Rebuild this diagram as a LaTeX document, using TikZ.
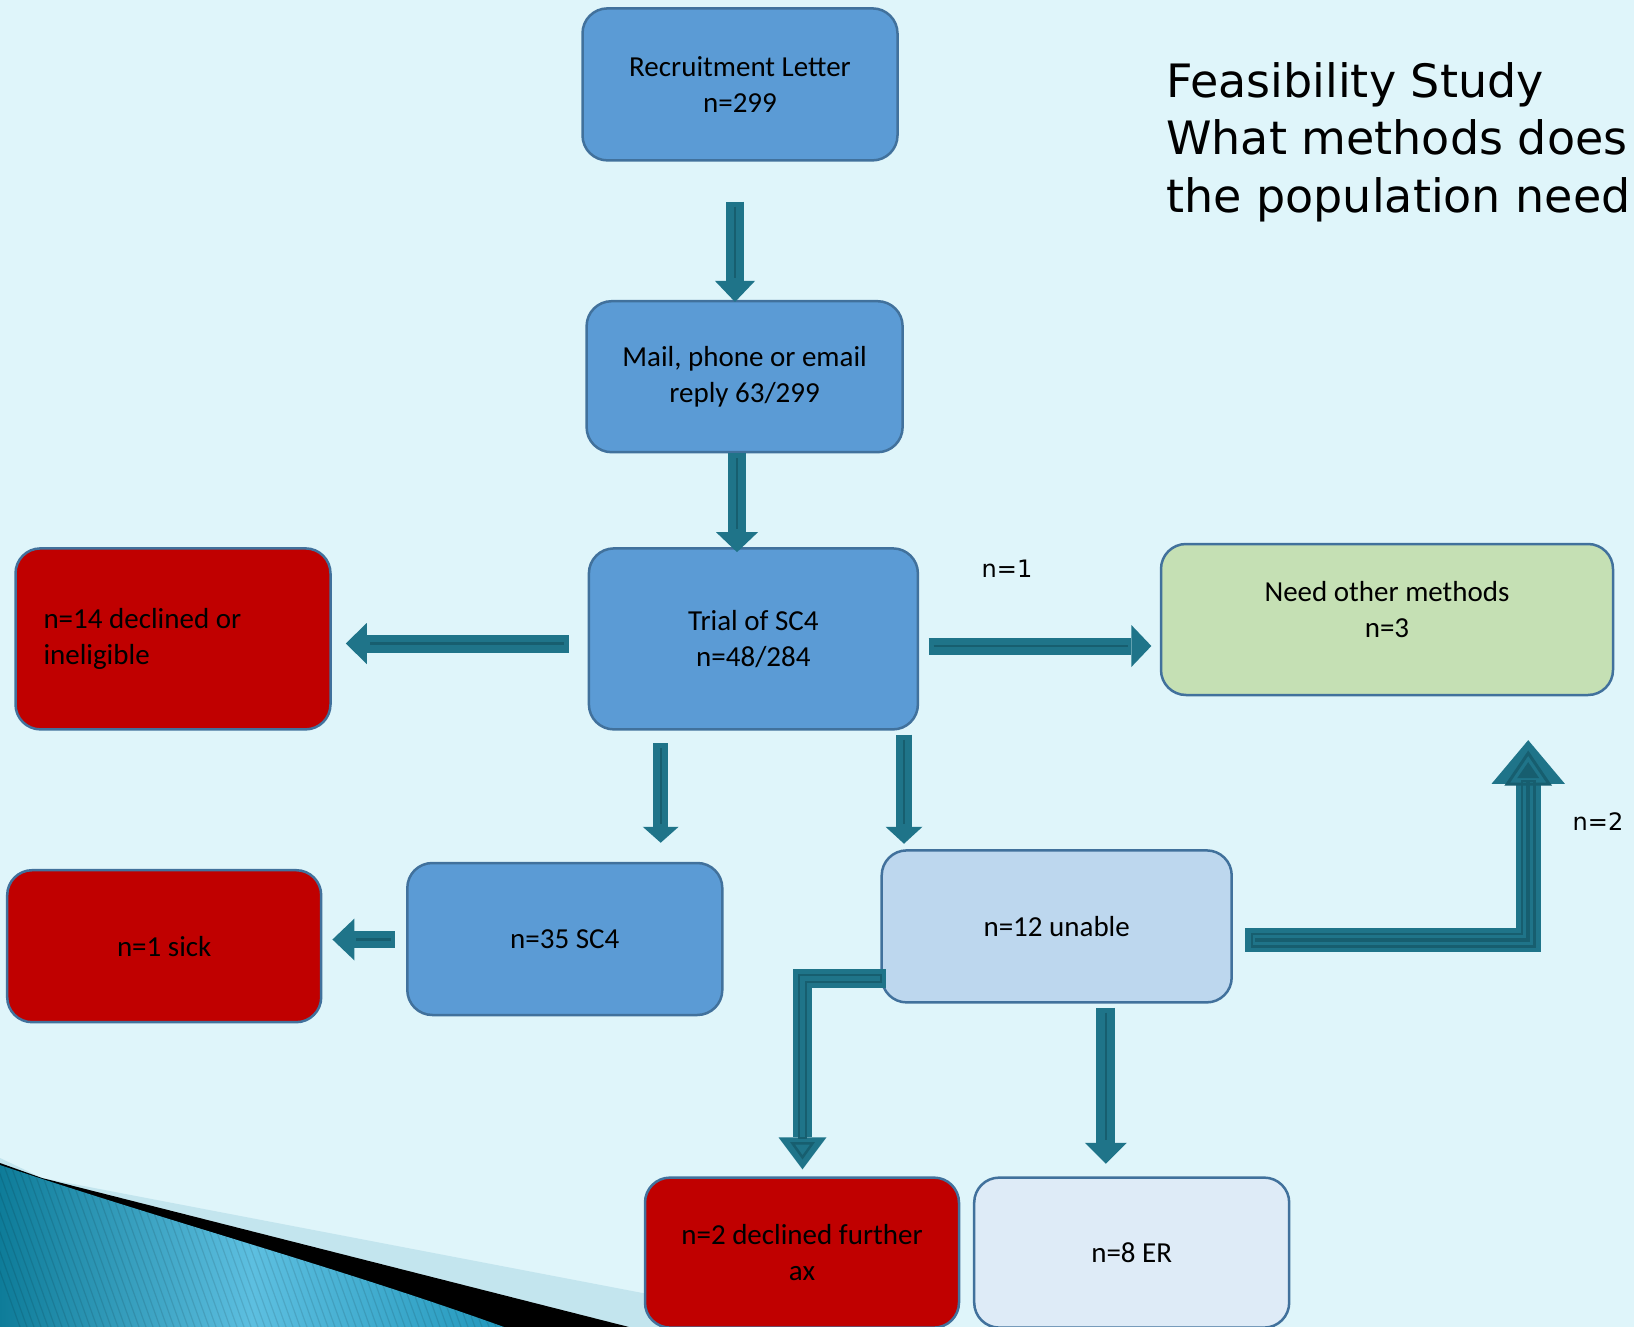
\documentclass[tikz,border=0pt]{standalone}
\usepackage{fontspec}
\setmainfont{Carlito}
\newfontfamily\titlefont{DejaVu Sans}
\usetikzlibrary{arrows.meta,calc}
\definecolor{bgc}{HTML}{DFF5FA}
\definecolor{blueA}{HTML}{5B9BD5}
\definecolor{bordc}{HTML}{41719C}
\definecolor{redA}{HTML}{C00000}
\definecolor{greenA}{HTML}{C5E0B4}
\definecolor{lightA}{HTML}{BDD7EE}
\definecolor{paleA}{HTML}{DEEBF7}
\definecolor{arrowcol}{HTML}{1F7489}
\definecolor{arrowdark}{HTML}{175E6F}
\definecolor{bandc}{HTML}{C3E5EE}
\definecolor{swA}{HTML}{0E7C99}
\definecolor{swB}{HTML}{5DBFE0}
\definecolor{swC}{HTML}{2398BC}
\tikzset{
  boxbase/.style={draw=bordc, line width=2.5pt, rounded corners=25pt, inner sep=0pt,
    align=center, font=\fontsize{29}{35.5}\selectfont, text=black},
  barrow/.style n args={3}{draw=arrowcol, line width=#1, line cap=butt, line join=miter,
    -{Triangle[width=#2,length=#3,line width=0pt]}},
  inln/.style={draw=arrowdark, line width=2.5pt, line cap=butt},
  titletext/.style={inner sep=0pt, anchor=base west, font=\titlefont\fontsize{46}{57}\selectfont},
  nlabel/.style={inner sep=0pt, font=\titlefont\fontsize{24}{28}\selectfont},
}
\begin{document}
\begin{tikzpicture}[x=1pt,y=-1pt]
\useasboundingbox (0,0) rectangle (1634,1327);
\clip (0,0) rectangle (1634,1327);
\fill[bgc] (0,0) rectangle (1634,1327);

% bottom-left swoosh
\fill[bandc] (0,1158) -- (42,1178) -- (700,1304) -- (700,1327) -- (0,1327) -- cycle;
\fill[black] (0,1163) -- (42,1178) -- (629,1327) -- (0,1327) -- cycle;
\begin{scope}
  \clip (0,1165) .. controls (170,1222) and (340,1268) .. (504,1327) -- (0,1327) -- cycle;
  \shade[left color=swA, right color=swC, middle color=swB] (0,1160) rectangle (504,1327);
  \foreach \k in {-40,-33,...,520} {
    \draw[black, opacity=0.10, line width=1.2pt] (\k,1160) -- (\k+60,1327);
  }
\end{scope}

% boxes
\node[boxbase, fill=blueA, minimum width=315pt, minimum height=152pt] (rec) at (740,84.4) {\raisebox{-2pt}{Recruitment Letter}\\\raisebox{-2pt}{n=299}};
\node[boxbase, fill=blueA, minimum width=316pt, minimum height=151pt] (mail) at (744.6,376.7) {\raisebox{-2pt}{Mail, phone or email}\\\raisebox{-2pt}{reply 63/299}};
\node[boxbase, fill=blueA, minimum width=329pt, minimum height=181pt] (trial) at (753.4,638.9) {Trial of SC4\\n=48/284};
\node[boxbase, fill=redA, minimum width=315pt, minimum height=181pt, text width=259pt, align=flush left, inner xsep=28pt] (decl) at (173,638.9) {n=14 declined or\\ineligible};
\node[boxbase, fill=greenA, minimum width=452pt, minimum height=151pt] (need) at (1387,619.5) {Need other methods\\n=3\\[-15.5pt]\mbox{}};
\node[boxbase, fill=redA, minimum width=314pt, minimum height=152pt] (sick) at (164.2,946.2) {n=1 sick};
\node[boxbase, fill=blueA, minimum width=315pt, minimum height=152pt] (sc4) at (564.8,939) {n=35 SC4};
\node[boxbase, fill=lightA, minimum width=350pt, minimum height=152pt] (unable) at (1056.7,926.4) {n=12 unable};
\node[boxbase, fill=redA, minimum width=314pt, minimum height=150pt] (declax) at (802,1252.6) {n=2 declined further\\ax};
\node[boxbase, fill=paleA, minimum width=315pt, minimum height=150pt] (er) at (1131.7,1252.6) {n=8 ER};

% title
\node[titletext] (t1) at (1166,98) {Feasibility Study};
\node[titletext] (t2) at (1166,155) {What methods does};
\node[titletext] (t3) at (1166,212) {the population need};

% labels
\node[nlabel] (n1) at (1007,569) {n=1};
\node[nlabel] (n2) at (1598,822) {n=2};

% arrow end points
\coordinate (a1s) at ($(rec.south)+(-5,40)$);
\coordinate (a1e) at ($(mail.north)+(-9.6,2)$);
\coordinate (a2s) at ($(mail.south)+(-7.6,0)$);
\coordinate (a2e) at ($(trial.north)+(-16.4,5)$);
\coordinate (a3s) at ($(trial.west)+(-19,4.6)$);
\coordinate (a3e) at ($(decl.east)+(14,4.6)$);
\coordinate (a4s) at ($(trial.east)+(9.5,7.1)$);
\coordinate (a4e) at ($(need.west)+(-8.4,26.5)$);
\coordinate (a5s) at ($(trial.south)+(-92.7,12.5)$);
\coordinate (a5e) at ($(sc4.north)+(95.9,-19)$);
\coordinate (a6s) at ($(trial.south)+(150.6,4)$);
\coordinate (a6e) at ($(unable.north)+(-152.7,-5.4)$);
\coordinate (a7s) at ($(sc4.west)+(-11.5,0.5)$);
\coordinate (a7e) at ($(sick.east)+(10,-6.7)$);
\coordinate (a8s) at ($(unable.west)+(5.7,52.4)$);
\coordinate (a8e) at ($(declax.north)+(0.5,-7)$);
\coordinate (a9s) at ($(unable.south)+(49.1,4.2)$);
\coordinate (a9e) at ($(er.north)+(-25.9,-12.6)$);
\coordinate (a10s) at ($(unable.east)+(12.2,13.6)$);
\coordinate (a10e) at ($(need.south)+(141.2,43.9)$);

% straight arrows
\draw[barrow={18pt}{40pt}{21pt}] (a1s) -- (a1e);
\draw[inln] ($(a1s)!5pt!(a1e)$) -- ($(a1e)!24pt!(a1s)$);
\draw[barrow={18pt}{42pt}{20pt}] (a2s) -- (a2e);
\draw[inln] ($(a2s)!5pt!(a2e)$) -- ($(a2e)!23pt!(a2s)$);
\draw[barrow={18pt}{41pt}{21pt}] (a3s) -- (a3e);
\draw[inln] ($(a3s)!5pt!(a3e)$) -- ($(a3e)!24pt!(a3s)$);
\draw[barrow={17pt}{42pt}{20pt}] (a4s) -- (a4e);
\draw[inln] ($(a4s)!5pt!(a4e)$) -- ($(a4e)!23pt!(a4s)$);
\draw[barrow={14.6pt}{36pt}{16pt}] (a5s) -- (a5e);
\draw[inln, line width=2pt] ($(a5s)!5pt!(a5e)$) -- ($(a5e)!19pt!(a5s)$);
\draw[barrow={16pt}{37pt}{17pt}] (a6s) -- (a6e);
\draw[inln, line width=2pt] ($(a6s)!5pt!(a6e)$) -- ($(a6e)!20pt!(a6s)$);
\draw[barrow={17.7pt}{42pt}{22pt}] (a7s) -- (a7e);
\draw[inln] ($(a7s)!4pt!(a7e)$) -- ($(a7e)!24pt!(a7s)$);
\draw[barrow={19pt}{42pt}{21pt}] (a9s) -- (a9e);
\draw[inln] ($(a9s)!5pt!(a9e)$) -- ($(a9e)!24pt!(a9s)$);

% bent arrow to declined further ax
\draw[barrow={19pt}{48pt}{32pt}] (a8s) -| (a8e);
\draw[arrowdark, line width=9pt, line join=miter] ($(a8s)+(-4,0)$) -| ($(a8e)+(0,-30)$);
\draw[arrowcol, line width=5pt, line join=miter] ($(a8s)+(-6,0)$) -| ($(a8e)+(0,-32)$);
\draw[arrowdark, line width=2.5pt, line join=miter] ($(a8e)+(-10,-26)$) -- ($(a8e)+(10,-26)$) -- ($(a8e)+(0,-12)$) -- cycle;

% bent arrow to need other methods
\draw[barrow={24.6pt}{73.4pt}{43.7pt}] (a10s) -| (a10e);
\draw[arrowdark, line width=15pt, line join=miter] ($(a10s)+(6,0)$) -| ($(a10e)+(0,40)$);
\draw[arrowcol, line width=10pt, line join=miter] ($(a10s)+(8,0)$) -| ($(a10e)+(0,42)$);
\draw[arrowdark, line width=4pt, line join=miter] ($(a10s)+(10,0)$) -| ($(a10e)+(0,40)$);
\draw[arrowdark, line width=3pt, line join=miter] ($(a10e)+(-21,44)$) -- ($(a10e)+(21,44)$) -- ($(a10e)+(0,13)$) -- cycle;
\fill[arrowdark] ($(a10e)+(-11,38)$) -- ($(a10e)+(11,38)$) -- ($(a10e)+(0,22)$) -- cycle;
\end{tikzpicture}
\end{document}
